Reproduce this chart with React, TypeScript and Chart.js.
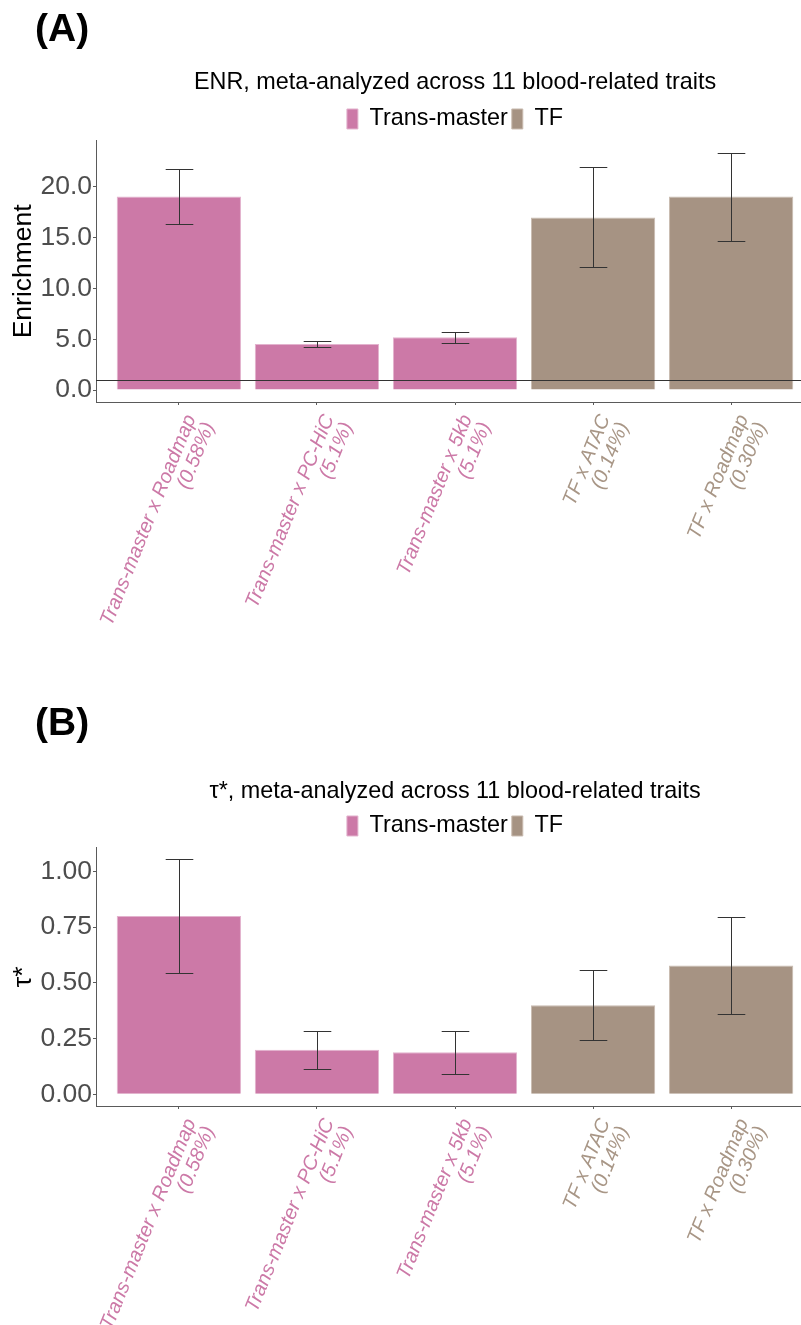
import { useEffect, useRef } from "react";
import { Chart, registerables } from "chart.js";

Chart.register(...registerables);

const FONT = "'Liberation Sans', Arial, Helvetica, sans-serif";

// Annotation categories shown on the x axis
const annotations = [
  "Trans-master x Roadmap",
  "Trans-master x PC-HiC",
  "Trans-master x 5kb",
  "TF x ATAC",
  "TF x Roadmap",
];
const annotSizes = ["(0.58%)", "(5.1%)", "(5.1%)", "(0.14%)", "(0.30%)"];
const annotGroups = ["Trans-master", "Trans-master", "Trans-master", "TF", "TF"];

const groupNames = ["Trans-master", "TF"];
const groupColors = ["#CC79A7", "#A69383"];
const groupBorders = ["#E3B3CE", "#C9BBB0"];
const groupTextColors = ["#CC79A7", "#A89686"];

// Panel A: enrichment with error bar limits
const enrichment = [19.06, 4.55, 5.2, 17.0, 19.06];
const enrichmentLow = [16.3, 4.28, 4.62, 12.1, 14.7];
const enrichmentHigh = [21.8, 4.87, 5.76, 21.96, 23.38];
const enrichmentTicks = [0, 5, 10, 15, 20];

// Panel B: tau* with error bar limits
const tauStar = [0.8, 0.2, 0.188, 0.399, 0.578];
const tauStarLow = [0.546, 0.114, 0.093, 0.242, 0.36];
const tauStarHigh = [1.054, 0.286, 0.286, 0.556, 0.795];
const tauStarTicks = [0, 0.25, 0.5, 0.75, 1];

const CANVAS_W = 910;
const SIDE_W = 96;

type PanelProps = {
  tag: string;
  title: string;
  yTitle: string;
  values: number[];
  low: number[];
  high: number[];
  ticks: number[];
  decimals: number;
  refLine: number | null;
  top: number;
  height: number;
  chartBottom: number;
  titlePadTop: number;
  titlePadBottom: number;
  tagTop: number;
};

function Panel(props: PanelProps) {
  const ref = useRef<HTMLCanvasElement>(null);

  useEffect(() => {
    const { values, low, high, ticks, decimals, refLine } = props;
    const hi = Math.max(...high, ...values);
    const lo = Math.min(0, ...low, ...values);
    const pad = 0.05 * (hi - lo);
    const xHeight = props.height - props.chartBottom;

    const datasets = groupNames.map((g, gi) => ({
      label: g,
      data: values
        .map((v, i) => ({ x: i, y: v }))
        .filter((_, i) => annotGroups[i] === g),
      backgroundColor: groupColors[gi],
      borderColor: groupBorders[gi],
      borderWidth: 1,
      barPercentage: 1,
      categoryPercentage: 0.9,
      grouped: false,
    }));

    const errorBars = {
      id: "errorBars",
      afterDatasetsDraw(chart: any) {
        const { ctx, chartArea } = chart;
        const x = chart.scales.x;
        const y = chart.scales.y;
        ctx.save();
        ctx.strokeStyle = "#333333";
        ctx.lineWidth = 1;
        if (refLine !== null) {
          const py = Math.round(y.getPixelForValue(refLine)) + 0.5;
          ctx.beginPath();
          ctx.moveTo(chartArea.left, py);
          ctx.lineTo(chartArea.right, py);
          ctx.stroke();
        }
        values.forEach((_, i) => {
          const cx = Math.round(x.getPixelForValue(i)) + 0.5;
          const half = x.getPixelForValue(i + 0.1) - x.getPixelForValue(i);
          const yl = Math.round(y.getPixelForValue(low[i])) + 0.5;
          const yh = Math.round(y.getPixelForValue(high[i])) + 0.5;
          ctx.beginPath();
          ctx.moveTo(cx, yh);
          ctx.lineTo(cx, yl);
          ctx.moveTo(cx - half, yh);
          ctx.lineTo(cx + half, yh);
          ctx.moveTo(cx - half, yl);
          ctx.lineTo(cx + half, yl);
          ctx.stroke();
        });
        ctx.restore();
      },
    };

    const chart = new Chart(ref.current as HTMLCanvasElement, {
      type: "bar",
      data: { datasets: datasets as any },
      plugins: [errorBars],
      options: {
        responsive: false,
        animation: false,
        devicePixelRatio: 1,
        events: [],
        layout: { padding: 0 },
        plugins: {
          title: {
            display: true,
            text: props.title,
            color: "#000000",
            font: { family: FONT, size: 23.4, weight: "normal", lineHeight: 1.2 },
            padding: { top: props.titlePadTop, bottom: props.titlePadBottom },
          },
          legend: {
            display: true,
            position: "top",
            labels: {
              color: "#000000",
              font: { family: FONT, size: 23.4 },
              boxWidth: 11,
              boxHeight: 20,
              padding: 4,
            },
          },
          tooltip: { enabled: false },
        },
        scales: {
          x: {
            type: "linear",
            offset: false,
            min: -0.6,
            max: annotations.length - 0.4,
            afterBuildTicks: (s: any) => {
              s.ticks = annotations.map((_, i) => ({ value: i }));
            },
            afterFit: (s: any) => {
              s.height = xHeight;
            },
            grid: {
              display: true,
              offset: false,
              drawOnChartArea: false,
              drawTicks: true,
              tickLength: 3,
              color: "#5A5A5A",
            },
            border: { display: true, color: "#5A5A5A", width: 1 },
            ticks: {
              autoSkip: false,
              minRotation: 68,
              maxRotation: 68,
              padding: 7,
              labelOffset: 12,
              color: (c: any) => {
                const idx = c.tick ? c.tick.value : c.index;
                return groupTextColors[groupNames.indexOf(annotGroups[idx])];
              },
              font: { family: FONT, size: 20, style: "italic", lineHeight: 1.0 },
              callback: (v: any) => [annotations[v], annotSizes[v]],
            },
          },
          y: {
            type: "linear",
            position: "left",
            min: lo - pad,
            max: hi + pad,
            afterBuildTicks: (s: any) => {
              s.ticks = ticks.map((v) => ({ value: v }));
            },
            afterFit: (s: any) => {
              s.width = SIDE_W;
            },
            grid: {
              display: true,
              drawOnChartArea: false,
              drawTicks: true,
              tickLength: 3,
              color: "#5A5A5A",
            },
            border: { display: true, color: "#5A5A5A", width: 1 },
            ticks: {
              padding: 1,
              color: "#4D4D4D",
              font: { family: FONT, size: 26.5 },
              callback: (v: any) => Number(v).toFixed(decimals),
            },
            title: {
              display: true,
              text: props.yTitle,
              color: "#000000",
              font: { family: FONT, size: 26.5, lineHeight: 1.2 },
              padding: { top: 8, bottom: 0 },
            },
          },
          yr: {
            type: "linear",
            position: "right",
            display: true,
            afterFit: (s: any) => {
              s.width = SIDE_W;
            },
            grid: { display: false },
            border: { display: false },
            ticks: { display: false },
          },
        },
      } as any,
    });

    return () => chart.destroy();
  }, []);

  return (
    <div
      style={{
        position: "absolute",
        left: 0,
        top: props.top,
        width: CANVAS_W,
        height: props.height,
      }}
    >
      <canvas
        ref={ref}
        width={CANVAS_W}
        height={props.height}
        style={{ display: "block", width: CANVAS_W, height: props.height }}
      />
      <div
        style={{
          position: "absolute",
          left: 35,
          top: props.tagTop,
          fontFamily: FONT,
          fontWeight: "bold",
          fontSize: 39,
          lineHeight: "39px",
          color: "#000",
        }}
      >
        {props.tag}
      </div>
    </div>
  );
}

export default function App() {
  return (
    <div
      style={{
        position: "absolute",
        left: 0,
        top: 0,
        width: 801,
        height: 1325,
        overflow: "hidden",
        background: "#ffffff",
      }}
    >
      <Panel
        tag="(A)"
        title="ENR, meta-analyzed across 11 blood-related traits"
        yTitle="Enrichment"
        values={enrichment}
        low={enrichmentLow}
        high={enrichmentHigh}
        ticks={enrichmentTicks}
        decimals={1}
        refLine={1}
        top={0}
        height={674}
        chartBottom={402}
        titlePadTop={69}
        titlePadBottom={6.2}
        tagTop={8}
      />
      <Panel
        tag="(B)"
        title="τ*, meta-analyzed across 11 blood-related traits"
        yTitle="τ*"
        values={tauStar}
        low={tauStarLow}
        high={tauStarHigh}
        ticks={tauStarTicks}
        decimals={2}
        refLine={null}
        top={674}
        height={651}
        chartBottom={432}
        titlePadTop={104}
        titlePadBottom={4.2}
        tagTop={28}
      />
    </div>
  );
}
